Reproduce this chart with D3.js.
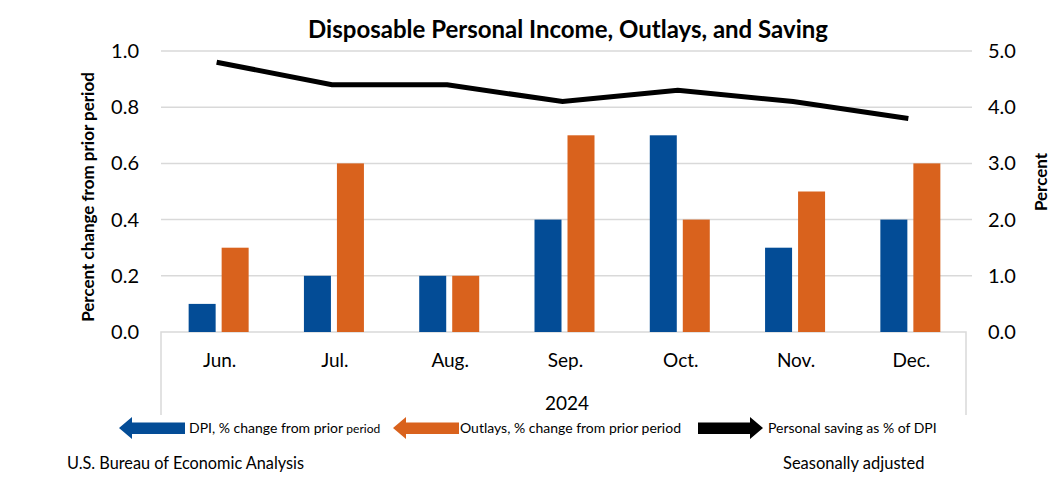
<!DOCTYPE html>
<html><head><meta charset="utf-8">
<script src="https://cdn.jsdelivr.net/npm/d3@7"></script>
<style>body{margin:0;background:#fff}svg{display:block;font-family:Lato,"Open Sans",sans-serif}</style>
</head><body><svg id="c" width="1051" height="482"></svg>
<script>
const months = ["Jun.","Jul.","Aug.","Sep.","Oct.","Nov.","Dec."];
const dpi = [0.1,0.2,0.2,0.4,0.7,0.3,0.4];
const outlays = [0.3,0.6,0.2,0.7,0.4,0.5,0.6];
const saving = [4.8,4.4,4.4,4.1,4.3,4.1,3.8];
const leftTicks = [0,0.2,0.4,0.6,0.8,1.0];
const rightTicks = [0,1,2,3,4,5];
const blue="#034C96", orange="#D9621D";

const svg=d3.select("#c");
const L=162,R=969,T=51,B=332;
const x=d3.scaleBand().domain(months).range([L,R]);
const yL=d3.scaleLinear().domain([0,1]).range([B,T]);
const yR=d3.scaleLinear().domain([0,5]).range([B,T]);

// gridlines
svg.append("g").selectAll("line").data(leftTicks.slice(1)).join("line")
 .attr("x1",161).attr("x2",972).attr("y1",d=>yL(d)).attr("y2",d=>yL(d))
 .attr("stroke","#d9d9d9").attr("stroke-width",1.5);
// category box
svg.append("path").attr("d",`M161,415V${B}H966V415`).attr("fill","none").attr("stroke","#d9d9d9").attr("stroke-width",1.5);

// bars
const bw=27, gap=6;
const g=svg.append("g");
g.selectAll(".b").data(months).join("rect")
 .attr("x",d=>x(d)+x.bandwidth()/2-bw-gap/2-1).attr("width",bw)
 .attr("y",(d,i)=>yL(dpi[i])).attr("height",(d,i)=>B-yL(dpi[i])).attr("fill",blue);
g.selectAll(".o").data(months).join("rect")
 .attr("x",d=>x(d)+x.bandwidth()/2+gap/2-1).attr("width",bw)
 .attr("y",(d,i)=>yL(outlays[i])).attr("height",(d,i)=>B-yL(outlays[i])).attr("fill",orange);

// line
svg.append("path").datum(saving)
 .attr("d",d3.line().x((d,i)=>x(months[i])+x.bandwidth()/2-3).y(d=>yR(d)))
 .attr("fill","none").attr("stroke","#000").attr("stroke-width",5);

// axes labels
svg.append("g").selectAll("text").data(leftTicks).join("text")
 .attr("x",139).attr("y",d=>yL(d)+7).attr("text-anchor","end").attr("font-size",20).text(d=>d.toFixed(1));
svg.append("g").selectAll("text").data(rightTicks).join("text")
 .attr("x",988).attr("y",d=>yR(d)+7).attr("text-anchor","start").attr("font-size",20).text(d=>d.toFixed(1));
svg.append("g").selectAll("text").data(months).join("text")
 .attr("x",d=>x(d)+x.bandwidth()/2).attr("y",367).attr("text-anchor","middle").attr("font-size",19).text(d=>d);
svg.append("text").attr("x",567).attr("y",410).attr("text-anchor","middle").attr("font-size",19).text("2024");

svg.append("text").attr("x",568).attr("y",38).attr("text-anchor","middle").attr("font-size",24).attr("font-weight","bold").text("Disposable Personal Income, Outlays, and Saving");
svg.append("text").attr("transform","translate(94,197) rotate(-90)").attr("text-anchor","middle").attr("font-size",17).attr("font-weight","bold").text("Percent change from prior period");
svg.append("text").attr("transform","translate(1047,182) rotate(-90)").attr("text-anchor","middle").attr("font-size",17).attr("font-weight","bold").text("Percent");

// legend arrows
function leftArrow(tip,end,col){
 svg.append("path").attr("d",`M${tip},428L${tip+13},417V422.5H${end}V434H${tip+13}V439Z`).attr("fill",col);
}
leftArrow(119,185,blue);
leftArrow(393,459,orange);
svg.append("path").attr("d",`M698,422.5H750V417L763,428L750,439V434H698Z`).attr("fill","#000");
const lt=svg.append("text").attr("x",189).attr("y",433).attr("font-size",14);
lt.append("tspan").text("DPI, % change from prior ");
lt.append("tspan").attr("font-size",12).text("period");
svg.append("text").attr("x",460).attr("y",433).attr("font-size",14).text("Outlays, % change from prior period");
svg.append("text").attr("x",768).attr("y",433).attr("font-size",14).text("Personal saving as % of DPI");

svg.append("text").attr("x",67).attr("y",469).attr("font-size",16.3).text("U.S. Bureau of Economic Analysis");
svg.append("text").attr("x",783).attr("y",469).attr("font-size",16.5).text("Seasonally adjusted");
</script></body></html>
